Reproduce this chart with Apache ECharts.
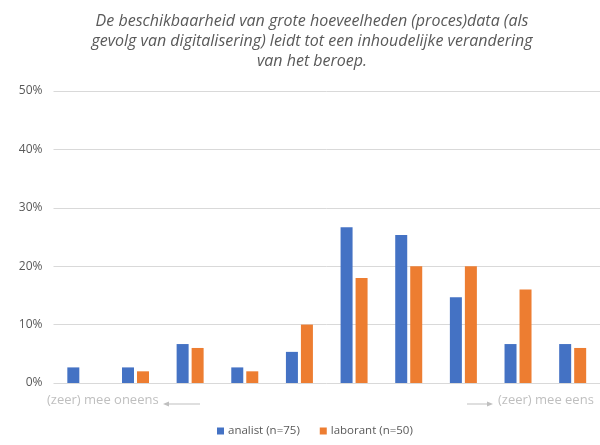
<!DOCTYPE html>
<html>
<head>
<meta charset="utf-8">
<script src="https://cdn.jsdelivr.net/npm/echarts@6/dist/echarts.min.js"></script>
<style>
    html, body { margin: 0; padding: 0; background: #fff; }
    #chart { width: 600px; height: 445px; }
</style>
</head>
<body>
<div id="chart"></div>
<script>
var categories = ['1', '2', '3', '4', '5', '6', '7', '8', '9', '10'];
var analist = [2.67, 2.67, 6.67, 2.67, 5.33, 26.67, 25.33, 14.67, 6.67, 6.67];
var laborant = [0, 2, 6, 2, 10, 18, 20, 20, 16, 6];
var seriesNames = ['analist (n=75)', 'laborant (n=50)'];
var titleText = 'De beschikbaarheid van grote hoeveelheden (proces)data (als\ngevolg van digitalisering) leidt tot een inhoudelijke verandering\nvan het beroep.';

var myChart = echarts.init(document.getElementById('chart'));

var option = {
    animation: false,
    title: {
        text: titleText,
        left: 307,
        textAlign: 'center',
        top: 6,
        textStyle: {
            fontFamily: 'Open Sans',
            fontStyle: 'italic',
            fontWeight: 'normal',
            fontSize: 16,
            lineHeight: 20,
            color: '#595959'
        }
    },
    legend: {
        bottom: 3,
        left: 212,
        itemWidth: 7,
        itemHeight: 7,
        itemGap: 20,
        icon: 'rect',
        textStyle: {
            fontFamily: 'Open Sans',
            fontSize: 11.5,
            color: '#595959',
            padding: [0, 0, 0, -1]
        },
        data: seriesNames
    },
    grid: {
        left: 53.5,
        width: 550,
        top: 91,
        bottom: 62
    },
    xAxis: {
        type: 'category',
        data: categories,
        axisLine: { show: false },
        axisTick: { show: false },
        axisLabel: { show: false }
    },
    yAxis: {
        type: 'value',
        min: 0,
        max: 50,
        interval: 10,
        axisLine: { show: false },
        axisTick: { show: false },
        axisLabel: {
            formatter: '{value}%',
            fontFamily: 'Open Sans',
            fontSize: 12,
            color: '#595959',
            margin: 11
        },
        splitLine: {
            lineStyle: { color: '#d9d9d9', width: 1 }
        }
    },
    series: [{
        name: seriesNames[0],
        type: 'bar',
        data: analist,
        barWidth: 12,
        barGap: '25%',
        itemStyle: { color: '#4472c4' }
    }, {
        name: seriesNames[1],
        type: 'bar',
        data: laborant,
        barWidth: 12,
        itemStyle: { color: '#ed7d31' }
    }],
    graphic: [{
        type: 'text',
        left: 47,
        top: 394,
        style: {
            text: '(zeer) mee oneens',
            font: '13px "Open Sans"',
            fill: '#bfbfbf'
        }
    }, {
        type: 'line',
        shape: { x1: 166, y1: 404, x2: 200, y2: 404 },
        style: { stroke: '#bfbfbf', lineWidth: 1 }
    }, {
        type: 'polygon',
        shape: { points: [[163, 404], [169, 401.5], [169, 406.5]] },
        style: { fill: '#bfbfbf' }
    }, {
        type: 'line',
        shape: { x1: 467, y1: 404, x2: 490, y2: 404 },
        style: { stroke: '#bfbfbf', lineWidth: 1 }
    }, {
        type: 'polygon',
        shape: { points: [[493, 404], [487, 401.5], [487, 406.5]] },
        style: { fill: '#bfbfbf' }
    }, {
        type: 'text',
        left: 498,
        top: 394,
        style: {
            text: '(zeer) mee eens',
            font: '13px "Open Sans"',
            fill: '#bfbfbf'
        }
    }]
};

myChart.setOption(option);

window.addEventListener("resize", function () {
    myChart.resize();
});
</script>
</body>
</html>
